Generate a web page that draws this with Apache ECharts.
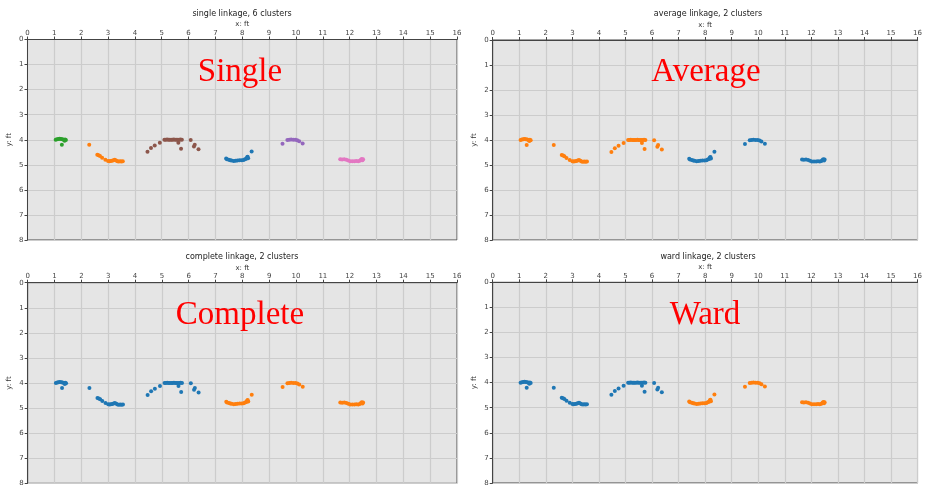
<!DOCTYPE html>
<html>
<head>
<meta charset="utf-8">
<script src="https://cdn.jsdelivr.net/npm/echarts@6/dist/echarts.min.js"></script>
<style>html,body{margin:0;padding:0;background:#fff}#c{width:925px;height:487px}</style>
</head>
<body>
<div id="c"></div>
<script>
// Point segments (x, y in ft)
const segGreen = [[1.05,4.0],[1.1,3.98],[1.15,3.97],[1.2,3.96],[1.25,3.97],[1.3,3.98],[1.35,4.0],[1.4,3.99],[1.43,4.01],[1.38,4.04],[1.28,4.2]];
const segOrange = [[2.3,4.2],[2.6,4.6],[2.65,4.62],[2.7,4.65],[2.78,4.72],[2.9,4.8],[3.0,4.85],[3.05,4.86],[3.1,4.85],[3.15,4.84],[3.2,4.82],[3.25,4.8],[3.3,4.83],[3.35,4.86],[3.4,4.87],[3.45,4.86],[3.5,4.87],[3.55,4.86]];
const segBrown = [[4.47,4.48],[4.6,4.33],[4.74,4.23],[4.93,4.12],[5.1,4.0],[5.15,4.0],[5.2,3.99],[5.25,4.0],[5.3,4.0],[5.35,4.0],[5.4,4.0],[5.45,3.99],[5.5,4.0],[5.55,4.0],[5.6,4.0],[5.65,4.0],[5.7,3.99],[5.75,4.0],[5.62,4.12],[5.72,4.36],[6.08,4.01],[6.2,4.27],[6.23,4.2],[6.37,4.38]];
const segBlue = [[7.4,4.75],[7.43,4.78],[7.5,4.8],[7.55,4.82],[7.6,4.83],[7.68,4.85],[7.75,4.84],[7.82,4.83],[7.9,4.82],[7.98,4.82],[8.05,4.81],[8.1,4.78],[8.15,4.76],[8.18,4.7],[8.2,4.68],[8.22,4.74],[8.35,4.47]];
const segPurple = [[9.5,4.16],[9.68,4.01],[9.75,4.0],[9.82,3.99],[9.9,4.0],[9.98,4.0],[10.05,4.02],[10.12,4.06],[10.25,4.15]];
const segPink = [[11.65,4.78],[11.72,4.79],[11.8,4.78],[11.88,4.8],[11.95,4.83],[12.02,4.86],[12.1,4.86],[12.18,4.86],[12.25,4.85],[12.32,4.86],[12.38,4.84],[12.42,4.8],[12.45,4.77],[12.5,4.78],[12.48,4.82]];
const segments = [segGreen, segOrange, segBrown, segBlue, segPurple, segPink];

const palette = {blue:'#1f77b4', orange:'#ff7f0e', green:'#2ca02c', purple:'#9467bd', brown:'#8c564b', pink:'#e377c2'};

const panelTitles = ['single linkage, 6 clusters','average linkage, 2 clusters','complete linkage, 2 clusters','ward linkage, 2 clusters'];
const panelLabels = ['Single','Average','Complete','Ward'];
// colour of each segment per panel
const singleColors   = ['green','orange','brown','blue','purple','pink'];
const averageColors  = ['orange','orange','orange','blue','blue','blue'];
const completeColors = ['blue','blue','blue','orange','orange','orange'];
const wardColors     = ['blue','blue','blue','orange','orange','orange'];
const panelColors = [singleColors, averageColors, completeColors, wardColors];

const xTicks = {min:0, max:16, interval:1};
const yTicks = {min:0, max:8, interval:1};

const grids = [
  {left:27.5, top:39.5, width:429.5, height:200.5},
  {left:492.7, top:40, width:430.6, height:200},
  {left:27.7, top:282.7, width:429.3, height:200.6},
  {left:492.7, top:282.3, width:430.6, height:200.7}
];
const labelCenters = [[240,72],[706,72],[240,315],[705,315]];
const titleTops = [10, 10, 253, 253];
const titleCenters = [242, 708, 242, 708];

const tickFont = {fontFamily:'DejaVu Sans', fontSize:7, color:'#444'};
const chart = echarts.init(document.getElementById('c'), null, {renderer:'canvas'});

const option = {
  animation:false,
  backgroundColor:'#fff',
  title: panelTitles.map((t,i)=>({text:t, left:titleCenters[i], top:titleTops[i], textAlign:'center', padding:0,
     textStyle:{fontFamily:'DejaVu Sans', fontSize:8, fontWeight:'normal', color:'#222'}})),
  grid: grids.map(g=>Object.assign({show:true, backgroundColor:'#e5e5e5', borderColor:'#444', borderWidth:1}, g)),
  xAxis: grids.map((g,i)=>({gridIndex:i, type:'value', position:'top', min:xTicks.min, max:xTicks.max, interval:xTicks.interval,
     name:'x: ft', nameLocation:'middle', nameGap:15, nameTextStyle:{fontFamily:'DejaVu Sans', fontSize:7, color:'#333', verticalAlign:'middle'},
     axisLine:{show:true, lineStyle:{color:'#444', width:1}},
     axisTick:{show:true, length:3, lineStyle:{color:'#444'}},
     axisLabel:Object.assign({margin:3}, tickFont),
     splitLine:{show:true, lineStyle:{color:'#cccccc', width:1.2}}})),
  yAxis: grids.map((g,i)=>({gridIndex:i, type:'value', inverse:true, min:yTicks.min, max:yTicks.max, interval:yTicks.interval,
     name:'y: ft', nameLocation:'middle', nameGap:15, nameRotate:90, nameTextStyle:{fontFamily:'DejaVu Sans', fontSize:7, color:'#333'},
     axisLine:{show:true, lineStyle:{color:'#444', width:1}},
     axisTick:{show:true, length:3, lineStyle:{color:'#444'}},
     axisLabel:Object.assign({margin:4}, tickFont),
     splitLine:{show:true, lineStyle:{color:'#cccccc', width:1.2}}})),
  graphic: panelLabels.map((t,i)=>({type:'text', x:labelCenters[i][0], y:labelCenters[i][1], z:100,
     style:{text:t, fill:'#ff0000', font:'33px "Liberation Serif"', textAlign:'center', textVerticalAlign:'middle'}})),
  series: []
};
panelColors.forEach((cols,i)=>{
  segments.forEach((seg,j)=>{
    option.series.push({type:'scatter', xAxisIndex:i, yAxisIndex:i, data:seg, symbolSize:4,
      itemStyle:{color:palette[cols[j]], opacity:1}, silent:true});
  });
});
chart.setOption(option);
</script>
</body>
</html>
